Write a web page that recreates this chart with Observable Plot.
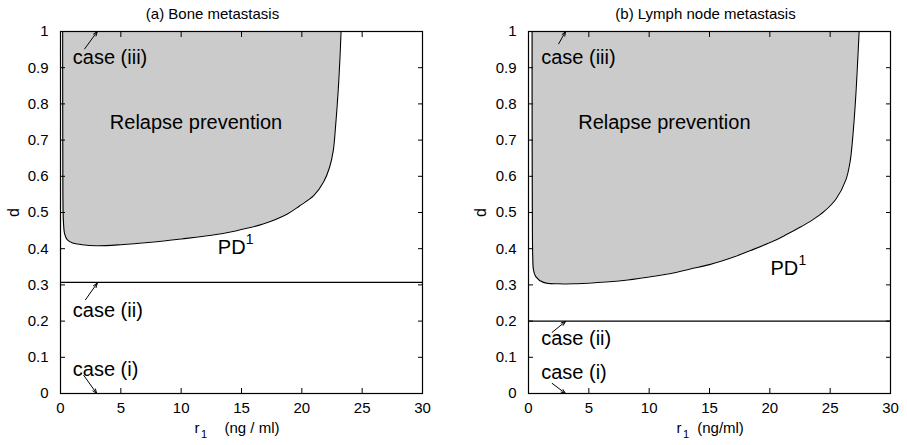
<!DOCTYPE html>
<html><head><meta charset="utf-8">
<script src="https://cdn.jsdelivr.net/npm/d3@7"></script>
<script src="https://cdn.jsdelivr.net/npm/@observablehq/plot@0.6"></script>
<style>
body{margin:0;background:#fff}
#wrap{display:flex;width:907px;height:445px;background:#fff}
</style>
</head><body><div id="wrap"></div>
<script>
// ---- data ----
const xTicks = [0, 5, 10, 15, 20, 25, 30];
const yTicks = [0, 0.1, 0.2, 0.3, 0.4, 0.5, 0.6, 0.7, 0.8, 0.9, 1];
const titles = ["(a) Bone metastasis", "(b) Lymph node metastasis"];
const unitLabels = ["(ng / ml)", "(ng/ml)"];
const dTop = 1;

// PD^1 boundary, bone metastasis
const boneR = [0.18, 0.18, 0.19, 0.2, 0.25, 0.35, 0.55, 1.0, 1.8, 3.0, 5.0, 7.5, 10, 12.5, 14.5, 16.85, 18.8, 19.8, 21.0, 21.8, 22.3, 22.6, 22.8, 23.0, 23.15, 23.25];
const boneD = [1.0, 0.9, 0.7, 0.55, 0.47, 0.44, 0.425, 0.416, 0.411, 0.408, 0.411, 0.418, 0.427, 0.437, 0.449, 0.469, 0.496, 0.518, 0.547, 0.584, 0.625, 0.67, 0.74, 0.83, 0.92, 1.0];
// PD^1 boundary, lymph node metastasis
const lymphR = [0.3, 0.3, 0.32, 0.35, 0.42, 0.6, 1.24, 2.5, 3.7, 5.5, 7.87, 10, 12.0, 13.4, 15, 17.0, 18.4, 20.3, 21.2, 22.5, 23.6, 24.5, 25.5, 26.3, 26.65, 26.85, 27.1, 27.4];
const lymphD = [1.0, 0.8, 0.5, 0.38, 0.34, 0.323, 0.307, 0.303, 0.303, 0.306, 0.312, 0.322, 0.333, 0.344, 0.356, 0.377, 0.395, 0.421, 0.436, 0.459, 0.481, 0.503, 0.538, 0.59, 0.64, 0.7, 0.81, 1.0];

const caseIILevels = [0.307, 0.2];

// annotation labels (r, d of baseline start)
const caseNames = ["case (iii)", "case (ii)", "case (i)"];
const boneCaseR = [1.02, 1.02, 1.02];
const boneCaseD = [0.911, 0.211, 0.047];
const lymphCaseR = [1.05, 1.05, 1.05];
const lymphCaseD = [0.911, 0.133, 0.041];

// arrows: tail (r1,d1) -> head (r2,d2)
const boneArrowR1 = [2.0, 2.07, 1.93];
const boneArrowD1 = [0.952, 0.259, 0.05];
const boneArrowR2 = [3.05, 3.05, 3.0];
const boneArrowD2 = [1.0, 0.305, 0.0];
const lymphArrowR1 = [2.5, 1.96, 1.96];
const lymphArrowD1 = [0.966, 0.169, 0.028];
const lymphArrowR2 = [3.07, 3.07, 3.07];
const lymphArrowD2 = [1.0, 0.199, 0.0];

const regionLabel = "Relapse prevention";
const regionPos = [[4.09, 0.731], [4.12, 0.731]];
const pdPos = [[13.04, 0.386], [20.05, 0.326]];

// ---- build ----
function zip(a, b) { return a.map((v, i) => ({r: v, d: b[i]})); }
const panels = [
  {
    pd: zip(boneR, boneD), level: caseIILevels[0],
    cases: caseNames.map((t, i) => ({t, r: boneCaseR[i], d: boneCaseD[i]})),
    arrows: caseNames.map((t, i) => ({r1: boneArrowR1[i], d1: boneArrowD1[i], r2: boneArrowR2[i], d2: boneArrowD2[i]})),
    region: regionPos[0], pdl: pdPos[0], title: titles[0], unit: unitLabels[0],
    width: 454, marginLeft: 60, marginRight: 32, rdx: -47, udx: -17, ydx: -47, tdx: -29
  },
  {
    pd: zip(lymphR, lymphD), level: caseIILevels[1],
    cases: caseNames.map((t, i) => ({t, r: lymphCaseR[i], d: lymphCaseD[i]})),
    arrows: caseNames.map((t, i) => ({r1: lymphArrowR1[i], d1: lymphArrowD1[i], r2: lymphArrowR2[i], d2: lymphArrowD2[i]})),
    region: regionPos[1], pdl: pdPos[1], title: titles[1], unit: unitLabels[1],
    width: 453, marginLeft: 74, marginRight: 17, rdx: -33, udx: -12.3, ydx: -48, tdx: -4
  }
];

const wrap = document.getElementById("wrap");
for (const p of panels) {
  const chart = Plot.plot({
    width: p.width, height: 445,
    marginLeft: p.marginLeft, marginRight: p.marginRight, marginTop: 31, marginBottom: 52,
    style: {fontFamily: "'Liberation Sans', Arial, sans-serif", fontSize: "15px", color: "black", background: "white"},
    x: {domain: [0, 30]},
    y: {domain: [0, 1]},
    marks: [
      Plot.areaY(p.pd, {x: "r", y1: "d", y2: dTop, fill: "#cbcbcb", curve: "catmull-rom"}),
      Plot.line(p.pd, {x: "r", y: "d", stroke: "black", strokeWidth: 1.1, curve: "catmull-rom"}),
      Plot.ruleY([p.level], {stroke: "black", strokeWidth: 1.2}),
      Plot.frame({stroke: "black", strokeWidth: 1.2}),
      Plot.axisX(xTicks, {anchor: "bottom", tickSize: -5, fill: "none", label: null}),
      Plot.axisX(xTicks, {anchor: "top", tickSize: -5, fill: "none", label: null}),
      Plot.axisY(yTicks, {anchor: "left", tickSize: -5, fill: "none", label: null}),
      Plot.axisY(yTicks, {anchor: "right", tickSize: -5, fill: "none", label: null}),
      Plot.axisX(xTicks, {anchor: "bottom", tickSize: 0, tickPadding: 9, label: null, tickFormat: d => String(d), fontSize: 15}),
      Plot.axisY(yTicks, {anchor: "left", tickSize: 0, tickPadding: 12, label: null, tickFormat: d => String(d), fontSize: 15}),
      Plot.arrow(p.arrows, {x1: "r1", y1: "d1", x2: "r2", y2: "d2", stroke: "black", strokeWidth: 1, headLength: 7, headAngle: 40}),
      Plot.text(p.cases, {x: "r", y: "d", text: "t", textAnchor: "start", lineAnchor: "bottom", fontSize: 20}),
      Plot.text([regionLabel], {x: () => p.region[0], y: () => p.region[1], text: d => d, textAnchor: "start", lineAnchor: "bottom", fontSize: 20}),
      Plot.text(["PD"], {x: () => p.pdl[0], y: () => p.pdl[1], text: d => d, textAnchor: "start", lineAnchor: "bottom", fontSize: 20}),
      Plot.text(["1"], {x: () => p.pdl[0], y: () => p.pdl[1], text: d => d, textAnchor: "start", lineAnchor: "bottom", fontSize: 14, dx: 28, dy: -10}),
      Plot.text([p.title], {frameAnchor: "top", text: d => d, lineAnchor: "bottom", dx: p.tdx, dy: -12.7, fontSize: 15}),
      Plot.text(["r"], {frameAnchor: "bottom", text: d => d, textAnchor: "start", lineAnchor: "bottom", dx: p.rdx, dy: 39, fontSize: 15}),
      Plot.text(["1"], {frameAnchor: "bottom", text: d => d, textAnchor: "start", lineAnchor: "bottom", dx: p.rdx + 6.5, dy: 44, fontSize: 11}),
      Plot.text([p.unit], {frameAnchor: "bottom", text: d => d, textAnchor: "start", lineAnchor: "bottom", dx: p.udx, dy: 39, fontSize: 15}),
      Plot.text(["d"], {frameAnchor: "left", text: d => d, rotate: -90, textAnchor: "middle", lineAnchor: "middle", dx: p.ydx, fontSize: 16})
    ]
  });
  wrap.appendChild(chart);
}
</script>
</body></html>
